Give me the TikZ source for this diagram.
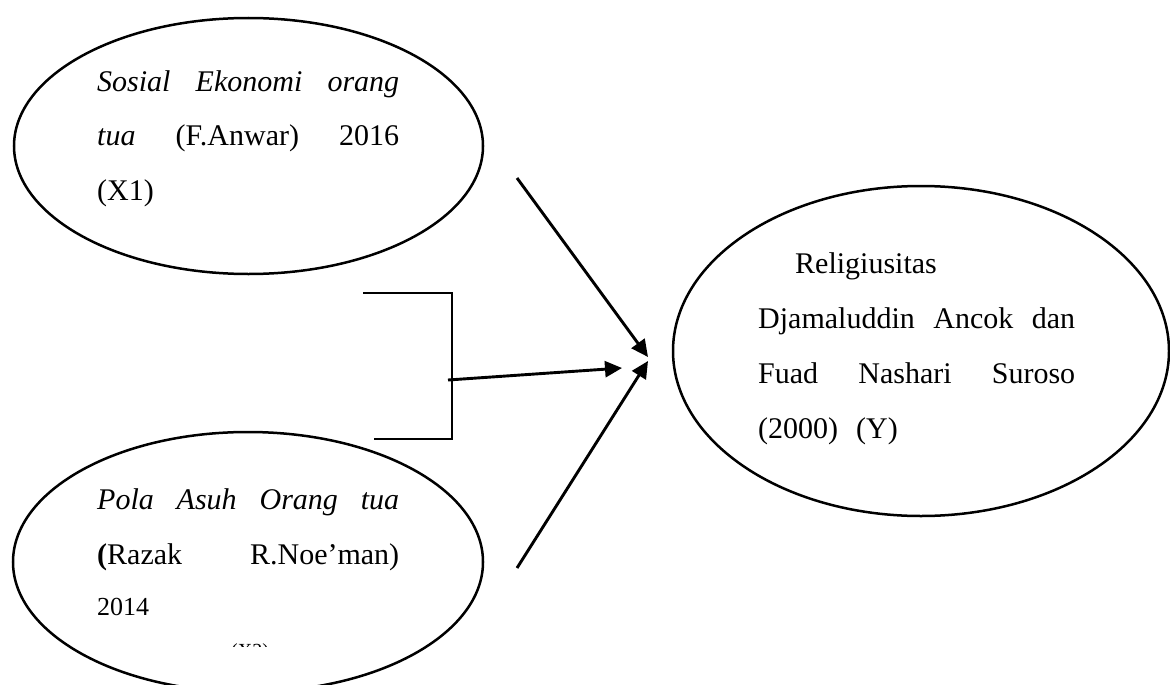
\documentclass[tikz,border=0pt]{standalone}
\usepackage{fontspec}
\setmainfont{Liberation Serif}
\usetikzlibrary{shapes.geometric,arrows.meta}
\begin{document}
\begin{tikzpicture}[x=1pt,y=-1pt,
  oval/.style={ellipse,draw,line width=2.5pt,inner sep=0pt},
  lbl/.style={anchor=base west,inner sep=0pt,font=\fontsize{30}{55}\selectfont},
  arr/.style={line width=2.9pt,-{Triangle[length=17pt,width=16pt]}},
  brk/.style={line width=1.4pt}]
\useasboundingbox (0,0) rectangle (1170,685);
% ellipses
\node[oval,minimum width=469pt,minimum height=256pt] (x1) at (248.5,146) {};
\node[oval,minimum width=470pt,minimum height=260pt] (x2) at (248,562) {};
\node[oval,minimum width=496pt,minimum height=330pt] (y) at (921,351) {};
% texts
\node[lbl] (t1) at (97,92) {\vtop{\hsize=302pt\baselineskip=54pt
  \hbox to 302pt{\itshape Sosial\hfill Ekonomi\hfill orang}
  \hbox to 302pt{\textit{tua}\hfill(F.Anwar)\hfill 2016}
  \hbox{(X1)}}};
\node[lbl] (t2) at (97,509) {\vtop{\hsize=302pt\baselineskip=55pt
  \hbox to 302pt{\itshape Pola\hfill Asuh\hfill Orang\hfill tua}
  \hbox to 302pt{\textbf{(}Razak\hfill R.Noe’man)}
  \vskip-4pt
  \hbox{\fontsize{26}{26}\selectfont 2014}}};
\begin{scope}
  \clip (225,640) rectangle (280,646.5);
  \node[anchor=base west,inner sep=0pt,font=\fontsize{20}{20}\selectfont] (t2b) at (231,657) {(X2)};
\end{scope}
\node[lbl] (t3) at (758,273) {\vtop{\hsize=317pt\baselineskip=55pt
  \hbox{\hspace*{37pt}Religiusitas}
  \hbox to 317pt{Djamaluddin\hfill Ancok\hfill dan}
  \hbox to 317pt{Fuad\hfill Nashari\hfill Suroso}
  \hbox{(2000)\hspace*{18pt}(Y)}}};
% bracket
\coordinate (b1) at (363,293);
\coordinate (b2) at (452,293);
\coordinate (b3) at (452,439);
\coordinate (b4) at (374,439);
\draw[brk] (b1) -- (b2) -- (b3) -- (b4);
% arrows
\coordinate (a1s) at (517,178);
\coordinate (a1e) at (648,357);
\coordinate (a2s) at (448,380);
\coordinate (a2e) at (622,368);
\coordinate (a3s) at (517,568);
\coordinate (a3e) at (648,361);
\draw[arr] (a1s) -- (a1e);
\draw[arr] (a2s) -- (a2e);
\draw[arr] (a3s) -- (a3e);
\end{tikzpicture}
\end{document}
